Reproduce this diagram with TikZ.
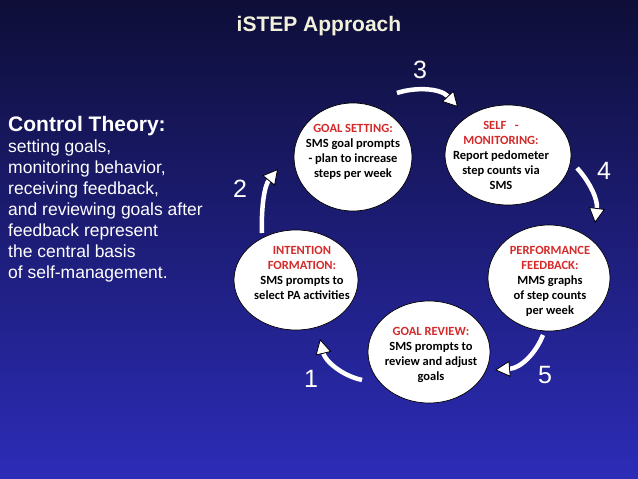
\documentclass[tikz,border=0pt]{standalone}
\usepackage{fontspec}
\setmainfont{Liberation Sans}
\newfontfamily\calfont{Carlito}
\usetikzlibrary{arrows.meta,shapes.geometric}
\definecolor{bgtop}{HTML}{0E0E38}
\definecolor{bgmid}{HTML}{1E1E88}
\definecolor{bgbot}{HTML}{2C2CB8}
\definecolor{headred}{HTML}{D42A2A}
\definecolor{titlecol}{HTML}{F2F2DC}
\begin{document}
\begin{tikzpicture}[x=1pt,y=-1pt,
  stage/.style={ellipse,draw=black,line width=0.7pt,fill=white,inner sep=0pt},
  stagetext/.style={font=\calfont\bfseries\fontsize{12.5}{15}\selectfont,align=center,text=black,inner sep=0pt},
  num/.style={font=\fontsize{25}{25}\selectfont,text=white,anchor=base,inner sep=0pt},
  cyc/.style={white,line width=4.5pt,-{Triangle[length=15pt,width=16pt,fill=white,color=black,line width=0.8pt]}}]
\useasboundingbox (0,0) rectangle (638,479);
\shade[top color=bgtop, middle color=bgmid, bottom color=bgbot] (0,0) rectangle (638,479);

% title
\node[font=\fontsize{21}{24}\selectfont\bfseries,text=titlecol,anchor=base,inner sep=0pt] (title) at (319,31.5) {iSTEP Approach};

% left text
\node[font=\fontsize{17.5}{21}\selectfont,text=white,align=left,anchor=north west,inner sep=0pt] (theory) at (8,116)
 {{\fontsize{21}{21}\selectfont\bfseries Control Theory:}\\
  setting goals,\\
  monitoring behavior,\\
  receiving feedback,\\
  and reviewing goals after\\
  feedback represent\\
  the central basis\\
  of self-management.};

% stages
\node[stage,minimum width=118pt,minimum height=108pt] (gs) at (353,157) {};
\node[stage,minimum width=126pt,minimum height=100pt] (sm) at (508,155) {};
\node[stage,minimum width=122pt,minimum height=106pt] (pf) at (549,278) {};
\node[stage,minimum width=122pt,minimum height=102pt] (gr) at (429,352) {};
\node[stage,minimum width=124pt,minimum height=100pt] (if) at (296,280) {};

\node[stagetext] (gst) at (353,152) {\textcolor{headred}{GOAL SETTING:}\\SMS goal prompts\\- plan to increase\\steps per week};
\node[stagetext] (smt) at (501,155) {\textcolor{headred}{SELF~~~-}\\\textcolor{headred}{MONITORING:}\\Report pedometer\\step counts via\\SMS};
\node[stagetext] (pft) at (550,281) {\textcolor{headred}{PERFORMANCE}\\\textcolor{headred}{FEEDBACK:}\\MMS graphs\\of step counts\\per week};
\node[stagetext] (grt) at (431,355) {\textcolor{headred}{GOAL REVIEW:}\\SMS prompts to\\review and adjust\\goals};
\node[stagetext] (ift) at (302,273) {\textcolor{headred}{INTENTION}\\\textcolor{headred}{FORMATION:}\\SMS prompts to\\select PA activities};

% arrow end points
\coordinate (s1) at (362,380); \coordinate (e1) at (320,339);
\coordinate (s2) at (262,233); \coordinate (e2) at (278,169);
\coordinate (s3) at (397,93);  \coordinate (e3) at (458,107);
\coordinate (s4) at (577,168); \coordinate (e4) at (595,223);
\coordinate (s5) at (543,335); \coordinate (e5) at (495,370);

\draw[cyc] (s1) .. controls (340,375) and (325,360) .. (e1);
\draw[cyc] (s2) .. controls (261,205) and (265,185) .. (e2);
\draw[cyc] (s3) .. controls (415,87) and (440,88) .. (e3);
\draw[cyc] (s4) .. controls (590,182) and (598,200) .. (e4);
\draw[cyc] (s5) .. controls (535,355) and (520,368) .. (e5);

% numbers
\node[num] (n1) at (311,387) {1};
\node[num] (n2) at (240,197) {2};
\node[num] (n3) at (420,78) {3};
\node[num] (n4) at (604,179) {4};
\node[num] (n5) at (545,383) {5};
\end{tikzpicture}
\end{document}
